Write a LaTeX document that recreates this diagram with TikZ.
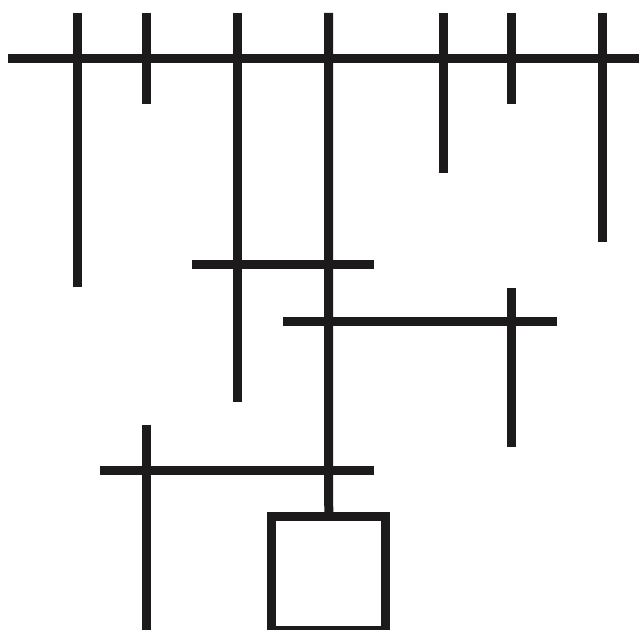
\documentclass[tikz,border=0pt]{standalone}
\usetikzlibrary{positioning}
\definecolor{linkblack}{RGB}{28,26,27}
\tikzset{
bar/.style={draw=linkblack, line width=6.4pt},
holebox/.style={draw=linkblack, line width=6.4pt, minimum width=2.86cm, minimum height=2.85cm, inner sep=0pt}
}
\begin{document}
\begin{tikzpicture}[x=0.025cm,y=-0.025cm]

\useasboundingbox (0,0) rectangle (639,630);
\clip (0,0) rectangle (639,630);

% top rail
\draw[bar] (8,58.5) -- (639,58.5);

\foreach \x/\ybot in {
77.5/287, 146/104, 237.5/402, 443/173, 511.5/104, 602.5/242} {
  \draw[bar] (\x,13) -- (\x,\ybot);
}

% middle crossings
\draw[bar] (192,265) -- (374,265);
\draw[bar] (283,321.5) -- (557,321.5);
\draw[bar] (511.5,288) -- (511.5,447);

% lower crossing
\draw[bar] (100,470.5) -- (374,470.5);
\draw[bar] (146.5,425) -- (146.5,640);

% stem and box
\node[holebox] (box) at (328.75,573.5) {};
\coordinate (stemtop) at (328.5,13);
\draw[bar] (stemtop) -- (box.north);

\end{tikzpicture}
\end{document}
